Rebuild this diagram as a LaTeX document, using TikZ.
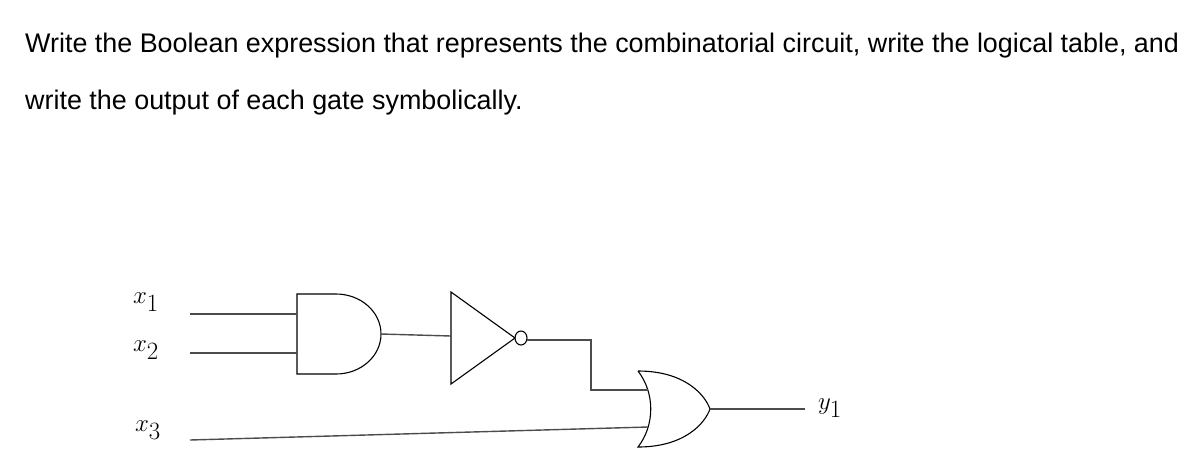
\documentclass[tikz,border=0pt]{standalone}
\usepackage{fontspec}
\setmainfont{Liberation Sans}
\begin{document}
\begin{tikzpicture}[x=1pt,y=-1pt,
  wire/.style={draw=black!70,line width=1.4pt},
  gate/.style={draw=black,line width=1.1pt},
  lbl/.style={inner sep=0pt,font=\fontsize{52}{56}\selectfont}]
\useasboundingbox (0,0) rectangle (1204,456);
\node[anchor=base west,inner sep=0pt,font=\fontsize{26.9}{30}\selectfont] (t1) at (25,52) {Write the Boolean expression that represents the combinatorial circuit, write the logical table, and};
\node[anchor=base west,inner sep=0pt,font=\fontsize{26.9}{30}\selectfont] (t2) at (25,109) {write the output of each gate symbolically.};
% labels
\node[lbl] (x1) at (146,302) {$x_1$};
\node[lbl] (x2) at (146,350) {$x_2$};
\node[lbl] (x3) at (148,430) {$x_3$};
\node[lbl] (y1) at (830,408) {$y_1$};
% AND gate
\draw[gate] (336,294) -- (297,294) -- (297,374) -- (336,374) arc[start angle=90,end angle=-90,x radius=45,y radius=40];
\coordinate (a1) at (297,314);
\coordinate (a2) at (297,353);
\coordinate (ao) at (381,334);
% NOT gate
\draw[gate] (451,292) -- (451,384) -- (515,338) -- cycle;
\draw[gate] (521,338) ellipse[x radius=6,y radius=7];
\coordinate (ni) at (451,336);
\coordinate (no) at (527,340);
% OR gate
\draw[gate] (638,371) .. controls (685,371) and (705,395) .. (710,409)
  .. controls (705,423) and (685,447) .. (638,447)
  .. controls (655,425) and (655,393) .. (638,371);
\coordinate (o1) at (648,390);
\coordinate (o2) at (648,427);
\coordinate (oo) at (710,409);
\coordinate (s1) at (190,314);
\coordinate (s2) at (190,353);
\coordinate (s3) at (190,440);
\coordinate (e) at (805,409);
% wires
\draw[wire] (s1) -- (a1);
\draw[wire] (s2) -- (a2);
\draw[wire] (ao) -- (ni);
\draw[wire] (no) -- (591,340) -- (591,390) -- (o1);
\draw[wire] (s3) -- (o2);
\draw[wire] (oo) -- (e);
\end{tikzpicture}
\end{document}
